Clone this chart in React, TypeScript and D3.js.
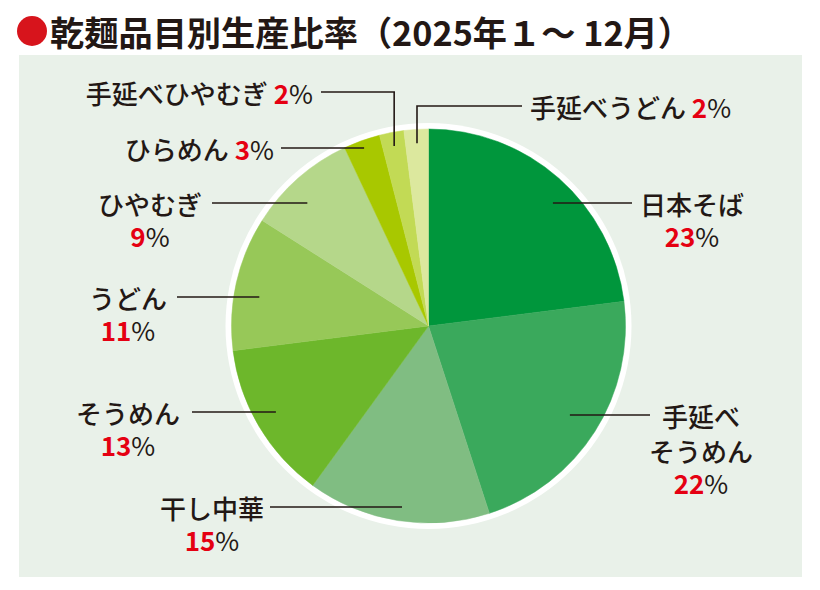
import React, { useEffect, useRef } from 'react';
import * as d3 from 'd3';

// chart values
const items = ["日本そば", "手延べそうめん", "干し中華", "そうめん", "うどん", "ひやむぎ", "ひらめん", "手延べひやむぎ", "手延べうどん"];
const shares = [23, 22, 15, 13, 11, 9, 3, 2, 2];
const sliceColors = ["#00963c", "#3aa95c", "#80bd82", "#6db72b", "#97c858", "#b5d78a", "#a8c800", "#c2da55", "#dce89e"];
const titleText = "乾麺品目別生産比率（2025年１～ 12月）";

// label placement (layout only): where each name sits and how its leader reaches the slice
type Spot = { x: number; y: number; anchor: string; breakAt: number; inline: boolean; reach: number; lineEnd: number; elbow?: boolean };
const labelSpots: Spot[] = [
  { x: 692, y: 203, anchor: "middle", breakAt: 0, inline: false, reach: 0.955, lineEnd: 632 },
  { x: 701, y: 415, anchor: "middle", breakAt: 3, inline: false, reach: 0.85, lineEnd: 650 },
  { x: 212, y: 507, anchor: "middle", breakAt: 0, inline: false, reach: 0.86, lineEnd: 270 },
  { x: 128, y: 412, anchor: "middle", breakAt: 0, inline: false, reach: 0.9, lineEnd: 192 },
  { x: 128, y: 297, anchor: "middle", breakAt: 0, inline: false, reach: 0.88, lineEnd: 177 },
  { x: 150, y: 203, anchor: "middle", breakAt: 0, inline: false, reach: 0.93, lineEnd: 212 },
  { x: 274, y: 148, anchor: "end", breakAt: 0, inline: true, reach: 0.965, lineEnd: 281 },
  { x: 313, y: 92, anchor: "end", breakAt: 0, inline: true, reach: 0.93, lineEnd: 321, elbow: true },
  { x: 530, y: 106, anchor: "start", breakAt: 0, inline: true, reach: 0.93, lineEnd: 522, elbow: true },
];

const DARK = "#231815";
const RED = "#e50012";
const FONT = "'Noto Sans CJK JP', 'Noto Sans', sans-serif";

const App = () => {
  const ref = useRef<SVGSVGElement | null>(null);

  useEffect(() => {
    document.body.style.margin = "0";
    const svg = d3.select(ref.current);
    svg.selectAll("*").remove();

    const width = 820, height = 590;
    const cx = 428.5, cy = 326, radius = 197;

    svg.append("rect").attr("width", width).attr("height", height).attr("fill", "#ffffff");

    // panel
    svg.append("rect")
      .attr("x", 19).attr("y", 55).attr("width", 783).attr("height", 522)
      .attr("fill", "#e9f1e9");

    // title
    svg.append("circle").attr("cx", 32).attr("cy", 31).attr("r", 15).attr("fill", "#d7141c");
    svg.append("text")
      .attr("x", 50).attr("y", 31)
      .attr("dominant-baseline", "central")
      .attr("font-family", FONT).attr("font-weight", 700).attr("font-size", 34)
      .attr("fill", DARK)
      .attr("textLength", 642).attr("lengthAdjust", "spacingAndGlyphs")
      .text(titleText);

    const g = svg.append("g").attr("transform", `translate(${cx},${cy})`);

    // white ring
    g.append("circle").attr("r", radius + 6).attr("fill", "#ffffff");

    const pie = d3.pie<number>().sort(null).value(d => d);
    const arcs = pie(shares);
    const arc = d3.arc<d3.PieArcDatum<number>>().innerRadius(0).outerRadius(radius);

    g.selectAll("path.slice")
      .data(arcs)
      .join("path")
      .attr("class", "slice")
      .attr("d", arc)
      .attr("fill", (d, i) => sliceColors[i])
      .attr("stroke", (d, i) => sliceColors[i])
      .attr("stroke-width", 0.5);

    // leaders
    arcs.forEach((a, i) => {
      const s = labelSpots[i];
      const r = radius * s.reach;
      const inner = d3.arc<d3.PieArcDatum<number>>().innerRadius(r).outerRadius(r).centroid(a);
      const px = cx + inner[0];
      const py = cy + inner[1];
      const pts: [number, number][] = s.elbow
        ? [[px, py], [px, s.y], [s.lineEnd, s.y]]
        : [[px, s.y], [s.lineEnd, s.y]];
      svg.append("path")
        .attr("d", d3.line()(pts))
        .attr("fill", "none")
        .attr("stroke", DARK)
        .attr("stroke-width", 1.6);
    });

    // labels
    items.forEach((name, i) => {
      const s = labelSpots[i];
      const lines = s.breakAt > 0 ? [name.slice(0, s.breakAt), name.slice(s.breakAt)] : [name];
      const base = svg.append("g")
        .attr("font-family", FONT)
        .attr("font-size", 26)
        .attr("fill", DARK);

      if (s.inline) {
        const t = base.append("text")
          .attr("x", s.x).attr("y", s.y)
          .attr("text-anchor", s.anchor)
          .attr("dominant-baseline", "central");
        t.append("tspan").attr("font-weight", 500).text(name + " ");
        t.append("tspan").attr("font-weight", 700).attr("fill", RED).text(String(shares[i]));
        t.append("tspan").attr("font-weight", 400).text("%");
        return;
      }

      let y = s.y;
      lines.forEach((ln, k) => {
        if (k > 0) y += 35;
        base.append("text")
          .attr("x", s.x).attr("y", y)
          .attr("text-anchor", s.anchor)
          .attr("dominant-baseline", "central")
          .attr("font-weight", 500)
          .text(ln);
      });
      y += 32;
      const t = base.append("text")
        .attr("x", s.x).attr("y", y)
        .attr("text-anchor", s.anchor)
        .attr("dominant-baseline", "central");
      t.append("tspan").attr("font-weight", 700).attr("fill", RED).text(String(shares[i]));
      t.append("tspan").attr("font-weight", 400).text("%");
    });
  }, []);

  return <svg ref={ref} width={820} height={590} style={{ display: "block" }} />;
};

export default App;
